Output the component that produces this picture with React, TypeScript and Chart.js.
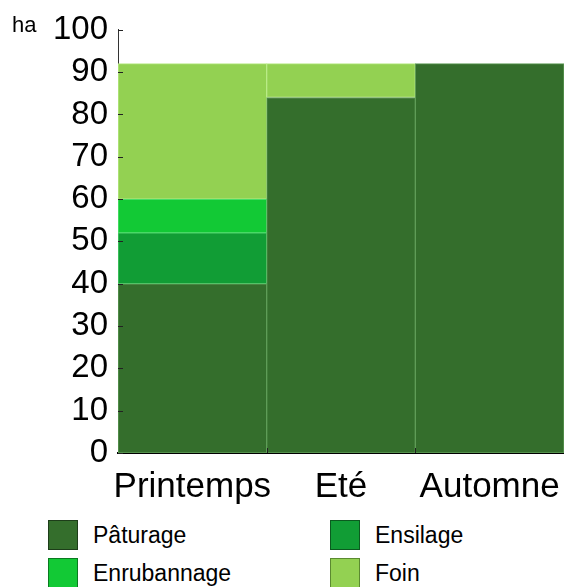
import React, { useEffect, useRef } from "react";
import { Chart, registerables } from "chart.js";

Chart.register(...registerables);

const categories = ["Printemps", "Eté", "Automne"];
const seriesNames = ["Pâturage", "Ensilage", "Enrubannage", "Foin"];
const paturage = [40, 84, 92];
const ensilage = [12, 0, 0];
const enrubannage = [8, 0, 0];
const foin = [32, 8, 0];
const yTicks = [0, 10, 20, 30, 40, 50, 60, 70, 80, 90, 100];
const unitLabel = "ha";

const fills = ["#346e2c", "#119d35", "#12c935", "#93d152"];
const borders = ["#5f9c57", "#4fd06c", "#58e476", "#b9ea86"];
const legendBorders = ["#1d3d19", "#0b5a1f", "#0a7a20", "#5b8a30"];

const FONT = "'Liberation Sans', Arial, sans-serif";

const insideTicks = {
  id: "insideTicks",
  afterDraw(chart: any) {
    const { ctx, chartArea, scales } = chart;
    const y = scales.y;
    const x = scales.x;
    ctx.save();
    ctx.lineWidth = 1;
    ctx.strokeStyle = "#222";
    yTicks.forEach((v) => {
      const py = Math.round(y.getPixelForValue(v)) + 0.5;
      ctx.beginPath();
      ctx.moveTo(chartArea.left, py);
      ctx.lineTo(chartArea.left + 5, py);
      ctx.stroke();
    });
    for (let i = 0; i < categories.length - 1; i++) {
      const px = Math.round((x.getPixelForValue(i) + x.getPixelForValue(i + 1)) / 2) + 0.5;
      ctx.beginPath();
      ctx.moveTo(px, chartArea.bottom);
      ctx.lineTo(px, chartArea.bottom - 5);
      ctx.stroke();
    }
    ctx.fillStyle = "#000";
    ctx.font = `22px ${FONT}`;
    ctx.textBaseline = "alphabetic";
    ctx.textAlign = "left";
    ctx.fillText(unitLabel, 12, 32);
    ctx.restore();
  },
};

export default function App() {
  const ref = useRef<HTMLCanvasElement>(null);
  useEffect(() => {
    const values = [paturage, ensilage, enrubannage, foin];
    const chart = new Chart(ref.current!, {
      type: "bar",
      data: {
        labels: categories,
        datasets: seriesNames.map((n, i) => ({
          label: n,
          data: values[i],
          backgroundColor: fills[i],
          borderColor: borders[i],
          borderWidth: 1,
          borderSkipped: false,
          barPercentage: 1,
          categoryPercentage: 1,
        })),
      },
      options: {
        animation: false,
        responsive: false,
        maintainAspectRatio: false,
        layout: { padding: { top: 10, right: 0, left: 0, bottom: 0 } },
        plugins: { legend: { display: false }, tooltip: { enabled: false } },
        scales: {
          x: {
            stacked: true,
            grid: { display: false, tickLength: 0 },
            border: { display: true, color: "#000", width: 2 },
            ticks: {
              color: "#000",
              font: { family: FONT, size: 35 },
              padding: 13,
              maxRotation: 0,
              minRotation: 0,
              autoSkip: false,
            },
            afterFit: (s: any) => {
              s.height = 52;
              s.paddingLeft = 0;
              s.paddingRight = 0;
            },
          },
          y: {
            stacked: true,
            min: 0,
            max: 100,
            grid: { display: false, tickLength: 0 },
            border: { display: true, color: "#333", width: 1 },
            ticks: {
              stepSize: 10,
              autoSkip: false,
              color: "#000",
              font: { family: FONT, size: 33 },
              padding: 10,
            },
            afterFit: (s: any) => {
              s.width = 118;
            },
          },
        },
      },
      plugins: [insideTicks],
    });
    return () => chart.destroy();
  }, []);

  const legendPos = [
    { left: 48, top: 520 },
    { left: 330, top: 520 },
    { left: 48, top: 558 },
    { left: 330, top: 558 },
  ];

  return (
    <div style={{ position: "fixed", left: 0, top: 0, width: 564, height: 587, background: "#fff", overflow: "hidden" }}>
      <canvas ref={ref} width={564} height={505} style={{ position: "absolute", left: 0, top: 0, width: 564, height: 505 }} />
      {seriesNames.map((n, i) => (
        <div key={n} style={{ position: "absolute", left: legendPos[i].left, top: legendPos[i].top, height: 30, display: "flex", alignItems: "center" }}>
          <div style={{ width: 28, height: 28, background: fills[i], border: `1px solid ${legendBorders[i]}` }} />
          <span style={{ marginLeft: 15, fontFamily: FONT, fontSize: 23, color: "#000", whiteSpace: "nowrap" }}>{n}</span>
        </div>
      ))}
    </div>
  );
}
